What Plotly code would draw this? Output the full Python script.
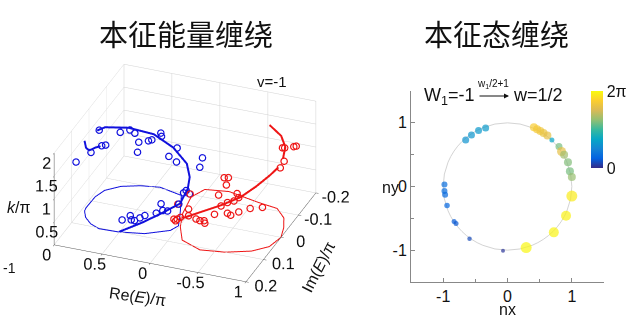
import plotly.graph_objects as go

# ---------------- data: left 3D panel (Re(E)/pi, Im(E)/pi, k/pi) ----------------
blue_floor_re = [0.20, 0.45, 0.64, 0.81, 0.93, 0.97, 0.975, 0.965, 0.91, 0.82, 0.71, 0.51, 0.26, 0.05, 0.01, 0.075, 0.15, 0.20]
blue_floor_im = [-0.089, -0.105, -0.096, -0.079, -0.051, -0.019, 0.031, 0.045, 0.069, 0.09, 0.103, 0.101, 0.088, 0.056, 0.032, -0.013, -0.059, -0.089]

red_floor_re = [-0.015, -0.125, -0.355, -0.6, -0.83, -0.96, -1.0, -0.956, -0.888, -0.76, -0.538, -0.205, 0.03, 0.1, 0.06, -0.015]
red_floor_im = [0.035, 0.085, 0.11, 0.10, 0.076, 0.045, 0.0, -0.04, -0.078, -0.11, -0.12, -0.14, -0.13, -0.09, -0.02, 0.035]

blue_curve_re = [0.505, 0.27, 0.07, -0.13, -0.12, -0.14, -0.11, 0.066, 0.307, 0.589, 0.87, 0.97, None, 0.956, 0.94, 0.906, 0.84, 0.79]
blue_curve_im = [0.10, 0.10, 0.10, 0.10, 0.05, 0.05, 0.05, 0.03, 0.01, 0.0, -0.02, -0.03, None, 0.05, 0.05, 0.05, 0.05, 0.05]
blue_curve_k = [0.0, 0.29, 0.57, 0.87, 0.95, 1.21, 1.49, 1.67, 1.77, 1.75, 1.55, 1.39, None, 1.56, 1.41, 1.37, 1.46, 1.51]

red_curve_re = [0.03, -0.115, -0.35, -0.55, -0.70, -0.82, -0.90, None, -0.93, -0.95, -0.88, -0.75]
red_curve_im = [0.0, -0.02, -0.014, -0.015, -0.022, -0.034, -0.04, None, -0.05, -0.052, -0.067, -0.072]
red_curve_k = [0.0, 0.09, 0.37, 0.62, 0.88, 1.11, 1.29, None, 1.44, 1.70, 1.84, 2.0]

blue_pts_re = [0.896, 0.677, 0.576, 0.525, 0.484, 0.497, 0.383, 0.348, 0.254, 0.247, 0.17, 0.084, 0.091, 0.87, 0.829,
               0.982, 0.992, -0.18, -0.152, 0.512, 0.427, 0.417, 0.383, 0.326, 0.275, 0.156, 0.106, 0.088, 0.038,
               -0.006, 0.017, -0.01, -0.044]
blue_pts_im = [0, 0, 0, 0, 0, 0, 0, 0, 0, 0, 0, 0, 0, 0, 0,
               0, 0.08, 0, 0, 0.08, 0.08, 0.08, 0.08, 0.08, 0.08, 0.08, 0.08, 0.08, 0.08,
               0.04, 0, 0, 0]
blue_pts_k = [1.575, 1.616, 1.708, 1.657, 1.478, 1.255, 1.548, 1.585, 1.77, 1.70, 1.295, 1.513, 1.206, 1.245, 1.277,
              1.055, 1.229, 1.405, 1.189, 0.16, 0.289, 0.2, 0.198, 0.28, 0.352, 0.452, 0.676, 0.537, 0.546,
              0.52, 0.563, 0.624, 0.565]

red_pts_re = [-0.941, -0.964, -0.986, -0.975, -0.958, -0.918, -0.406, -0.45, -0.429, -0.541, -0.558, -0.348, -0.508,
              -0.44, -0.373, -0.677, -0.805, -0.558, -0.44, -0.474, -0.305, -0.186, -0.226, -0.27, -0.277, -0.108,
              -0.125, 0.004, 0.045, 0.01, -0.023, 0.027, -0.108]
red_pts_im = [-0.04, -0.04, -0.08, -0.1, -0.04, -0.04, 0, 0, 0, 0, 0, 0, 0,
              0, 0, 0, 0, 0, 0, 0, 0, 0.04, 0.04, 0.04, 0.04, 0.04,
              0.04, 0.04, 0.04, 0.04, 0.04, 0.04, 0.04]
red_pts_k = [1.735, 1.744, 1.585, 1.495, 1.45, 1.29, 1.063, 1.082, 0.913, 0.772, 0.691, 0.661, 0.597,
             0.535, 0.433, 0.502, 0.576, 0.378, 0.302, 0.272, 0.224, 0.268, 0.248, 0.265, 0.213, 0.308,
             0.787, 0.515, 0.172, 0.187, 0.237, 0.143, 0.453]

re_tickvals = [-1, -0.5, 0, 0.5, 1]
re_ticktext = ["1", "-0.5", "0", "0.5", ""]
re_corner_label = "-1"
im_tickvals = [-0.2, -0.1, 0, 0.1, 0.2]
im_ticktext = ["-0.2", "-0.1", "0", "0.1", "0.2"]
k_tickvals = [0, 0.5, 1, 1.5, 2]
k_ticktext = ["0", "0.5", "1", "1.5", "2"]

# ---------------- data: right panel (eigenstate winding) ----------------
nx = [-0.65, -0.56, -0.45, -0.34,
      -0.98, -0.98, -0.97, -0.94, -0.83, -0.80, -0.59, -0.07,
      0.41, 0.46, 0.51, 0.56, 0.62, 0.69, 0.80, 0.84, 0.88, 0.94, 0.97, 1.00,
      1.00, 0.91, 0.72, 0.29]
ny = [0.73, 0.81, 0.88, 0.92,
      0.03, -0.07, -0.13, -0.30, -0.55, -0.58, -0.82, -1.01,
      0.93, 0.90, 0.87, 0.84, 0.80, 0.73, 0.63, 0.55, 0.50, 0.38, 0.24, 0.15,
      -0.15, -0.46, -0.72, -0.96]
phase = [1.9, 1.95, 2.0, 2.05,
         1.05, 1.0, 0.95, 0.85, 0.7, 0.65, 0.45, 0.15,
         5.4, 5.3, 5.2, 5.1, 5.0, 2.3, 3.7, 5.0, 4.1, 3.8, 3.7, 4.0,
         6.0, 6.1, 6.15, 6.2]
msize = [7, 7, 7, 7,
         6, 6, 6, 5.5, 5, 5, 4.5, 4,
         8, 8, 8, 8, 8, 5, 7, 9, 8, 8, 8, 8,
         11, 10, 10, 11]

parula = [[0.0, '#352a87'], [0.125, '#0363e1'], [0.25, '#1485d4'], [0.375, '#06a7c6'],
          [0.5, '#38b99e'], [0.625, '#92bf73'], [0.75, '#d9ba56'], [0.875, '#fcce2e'], [1.0, '#f9fb0e']]

BLUE = '#1010dd'
RED = '#ee1515'
FONT = 'Liberation Sans, Arial, sans-serif'
CJK = 'Noto Sans CJK SC'

fig = go.Figure()

# floor projections
fig.add_trace(go.Scatter3d(x=blue_floor_re, y=blue_floor_im, z=[0] * len(blue_floor_re), mode='lines',
                           line=dict(color=BLUE, width=2), showlegend=False, hoverinfo='skip'))
fig.add_trace(go.Scatter3d(x=red_floor_re, y=red_floor_im, z=[0] * len(red_floor_re), mode='lines',
                           line=dict(color=RED, width=2), showlegend=False, hoverinfo='skip'))
# theory curves
fig.add_trace(go.Scatter3d(x=blue_curve_re, y=blue_curve_im, z=blue_curve_k, mode='lines',
                           line=dict(color=BLUE, width=4), connectgaps=False, showlegend=False))
fig.add_trace(go.Scatter3d(x=red_curve_re, y=red_curve_im, z=red_curve_k, mode='lines',
                           line=dict(color=RED, width=4), connectgaps=False, showlegend=False))
# experimental points
fig.add_trace(go.Scatter3d(x=blue_pts_re, y=blue_pts_im, z=blue_pts_k, mode='markers',
                           marker=dict(symbol='circle-open', size=4, color=BLUE, line=dict(width=2, color=BLUE)),
                           showlegend=False))
fig.add_trace(go.Scatter3d(x=red_pts_re, y=red_pts_im, z=red_pts_k, mode='markers',
                           marker=dict(symbol='circle-open', size=4, color=RED, line=dict(width=2, color=RED)),
                           showlegend=False))

# right panel
fig.add_trace(go.Scatter(x=nx, y=ny, mode='markers', xaxis='x', yaxis='y',
                         marker=dict(size=msize, color=phase, colorscale=parula, cmin=0, cmax=6.2832,
                                     line=dict(width=0),
                                     colorbar=dict(x=591 / 640, xanchor='left', y=1 - 91 / 327, yanchor='top',
                                                   len=77 / 327, lenmode='fraction', thickness=12, ypad=0, xpad=0,
                                                   outlinewidth=0, tickvals=[0, 6.2832], ticktext=['0', '2π'],
                                                   ticks='', tickfont=dict(family=FONT, size=16, color='#111'))),
                         showlegend=False))

axis3d = dict(showbackground=False, gridcolor='#d2d2d2', gridwidth=1, showline=True, linecolor='#555',
              linewidth=1, zeroline=False, showspikes=False, ticks='outside', ticklen=3, tickcolor='#555',
              tickangle=0, tickfont=dict(family=FONT, size=14, color='#111'), title=dict(text=''))

fig.update_layout(
    width=640, height=327, margin=dict(l=0, r=0, t=0, b=0),
    paper_bgcolor='white', plot_bgcolor='white',
    font=dict(family=FONT, color='#111'),
    scene=dict(
        domain=dict(x=[0.0, 0.578], y=[0.068, 0.876]),
        aspectmode='manual', aspectratio=dict(x=1.56, y=1.46, z=0.8),
        camera=dict(eye=dict(x=-0.63, y=1.62, z=0.99), center=dict(x=0, y=0, z=0), up=dict(x=0, y=0, z=1),
                    projection=dict(type='orthographic')),
        xaxis=dict(axis3d, range=[-1, 1], tickvals=re_tickvals, ticktext=re_ticktext),
        yaxis=dict(axis3d, range=[-0.2, 0.2], tickvals=im_tickvals, ticktext=im_ticktext),
        zaxis=dict(axis3d, range=[0, 2], tickvals=k_tickvals, ticktext=k_ticktext),
    ),
    xaxis=dict(domain=[411 / 640, 604 / 640], anchor='y', range=[-1.5, 1.5], showgrid=False, zeroline=False,
               showline=True, linecolor='#888', linewidth=1, ticks='inside', ticklen=4, tickcolor='#888',
               tickvals=[-1, 0, 1], ticktext=['-1', '0', '1'], tickfont=dict(family=FONT, size=16, color='#111'),
               minor=dict(ticks='inside', ticklen=3, tickcolor='#888', tickvals=[-0.5, 0.5]), fixedrange=True),
    yaxis=dict(domain=[1 - 282 / 327, 1 - 91 / 327], anchor='x', range=[-1.5, 1.5], showgrid=False, zeroline=False,
               showline=True, linecolor='#888', linewidth=1, ticks='inside', ticklen=4, tickcolor='#888',
               tickvals=[-1, 0, 1], ticktext=['-1', '0', '1'], tickfont=dict(family=FONT, size=16, color='#111'),
               minor=dict(ticks='inside', ticklen=3, tickcolor='#888', tickvals=[-0.5, 0.5]), fixedrange=True),
    shapes=[dict(type='circle', xref='x', yref='y', x0=-1, y0=-1, x1=1, y1=1,
                 line=dict(color='#d4d4d4', width=1), layer='below')],
)

ann = [
    dict(text='本征能量缠绕', x=186 / 640, y=1 - 33 / 327, font=dict(family=CJK, size=29, color='#111')),
    dict(text='本征态缠绕', x=496 / 640, y=1 - 33 / 327, font=dict(family=CJK, size=29, color='#111')),
    dict(text='<i>k</i>/π', x=18 / 640, y=1 - 207 / 327, font=dict(size=16)),
    dict(text=re_corner_label, x=9 / 640, y=1 - 268 / 327, font=dict(size=14)),
    dict(text='Re(<i>E</i>)/π', x=137 / 640, y=1 - 296 / 327, font=dict(size=16), textangle=8),
    dict(text='Im(<i>E</i>)/π', x=318 / 640, y=1 - 267 / 327, font=dict(size=16), textangle=-63),
    dict(text='v=-1', x=272 / 640, y=1 - 82 / 327, font=dict(size=15)),
    dict(text='nx', x=507 / 640, y=1 - 309 / 327, font=dict(size=16)),
    dict(text='ny', x=390 / 640, y=1 - 187 / 327, font=dict(size=16)),
    dict(text='W<sub>1</sub>=-1', x=477 / 640, y=1 - 96 / 327, xanchor='right', font=dict(size=18)),
    dict(text='w=1/2', x=511 / 640, y=1 - 95 / 327, xanchor='left', font=dict(size=18)),
    dict(text='w<sub>1</sub>/2+1', x=493 / 640, y=1 - 84 / 327, font=dict(size=10)),
]
for a in ann:
    a.setdefault('xref', 'paper')
    a.setdefault('yref', 'paper')
    a.setdefault('xanchor', 'center')
    a.setdefault('yanchor', 'middle')
    a['showarrow'] = False
    fig.add_annotation(**a)

fig.add_annotation(x=509 / 640, y=1 - 96 / 327, ax=-31, ay=0, xref='paper', yref='paper',
                   axref='pixel', ayref='pixel', showarrow=True, arrowhead=2, arrowsize=1, arrowwidth=1,
                   arrowcolor='#111', text='')

fig.write_html("out.html")
